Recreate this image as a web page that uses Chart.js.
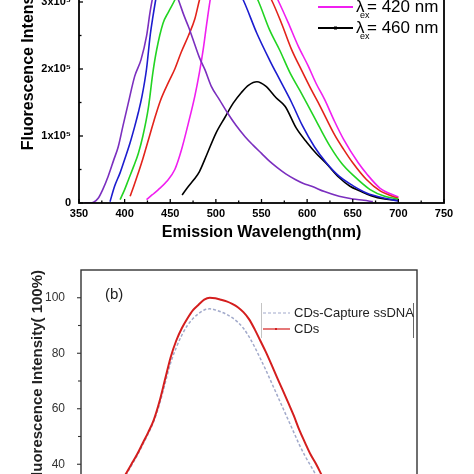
<!DOCTYPE html>
<html>
<head>
<meta charset="utf-8">
<script src="https://cdn.jsdelivr.net/npm/chart.js@4.4.1/dist/chart.umd.min.js"></script>
<style>
  html, body { margin: 0; padding: 0; background: #fff; }
  body { width: 474px; height: 474px; overflow: hidden; position: relative; }
  #specChart { position: absolute; left: 0; top: -150px; }
  #dnaChart { position: absolute; left: 0; top: 245px; }
</style>
</head>
<body>
<canvas id="specChart" width="474" height="395"></canvas>
<canvas id="dnaChart" width="474" height="300"></canvas>
<script>
// =======================
// DATA (a) - emission spectra, intensity in 1x10^5
// =======================
const exLabels = ["340", "360", "380", "400", "420", "460"];
const exColors = ["#7b2fbf", "#1c1ccf", "#22d422", "#e3231b", "#f01ff0", "#000000"];

const wl340 = [356, 362, 366, 371, 376, 382, 388, 393, 398, 404, 411, 418, 424, 428, 431, 434, 438, 443, 448, 453, 459, 465, 470, 476, 482, 488, 495, 504, 513, 522, 532, 541, 550, 559, 568, 577, 587, 596, 605, 619, 635, 650, 662, 672];
const int340 = [0, 0, 0.01, 0.07, 0.2, 0.4, 0.64, 0.84, 1.14, 1.49, 1.89, 2.14, 2.49, 2.86, 3.08, 3.22, 3.33, 3.38, 3.35, 3.24, 3.03, 2.8, 2.63, 2.4, 2.17, 1.99, 1.74, 1.54, 1.34, 1.16, 0.99, 0.86, 0.74, 0.62, 0.52, 0.43, 0.35, 0.29, 0.25, 0.17, 0.1, 0.06, 0.04, 0.02];

const wl360 = [384, 389, 395, 400, 406, 411, 415, 419, 424, 428, 431, 434, 440, 448, 458, 470, 482, 495, 508, 520, 530, 545, 559, 570, 583, 595, 608, 621, 635, 650, 665, 685, 700];
const int360 = [0.02, 0.25, 0.45, 0.65, 0.9, 1.14, 1.35, 1.59, 2.0, 2.5, 2.78, 3.03, 3.5, 3.9, 4.15, 4.25, 4.15, 3.9, 3.6, 3.28, 3.03, 2.53, 2.13, 1.84, 1.5, 1.15, 0.84, 0.6, 0.4, 0.26, 0.15, 0.07, 0.03];

const wl380 = [395, 400, 404, 410, 415, 420, 426, 431, 435, 442, 448, 455, 462, 472, 485, 498, 510, 522, 534, 546, 559, 570, 581, 592, 600, 614, 625, 638, 650, 669, 685, 700];
const int380 = [0.05, 0.2, 0.34, 0.55, 0.74, 1.0, 1.42, 1.95, 2.28, 2.68, 2.85, 3.03, 3.25, 3.5, 3.72, 3.82, 3.78, 3.6, 3.33, 3.03, 2.58, 2.28, 1.95, 1.68, 1.48, 1.12, 0.85, 0.59, 0.42, 0.2, 0.1, 0.06];

const wl400 = [406, 410, 415, 420, 426, 432, 439, 448, 455, 462, 470, 477, 482, 490, 500, 512, 524, 535, 548, 561, 572, 583, 594, 605, 614, 630, 640, 650, 665, 680, 700];
const int400 = [0.1, 0.25, 0.45, 0.66, 0.94, 1.22, 1.52, 1.8, 2.0, 2.25, 2.5, 2.75, 3.03, 3.4, 3.72, 3.9, 3.85, 3.65, 3.33, 3.03, 2.68, 2.29, 1.98, 1.68, 1.45, 1.02, 0.8, 0.6, 0.35, 0.18, 0.07];

const wl420 = [424, 430, 437, 446, 455, 462, 470, 477, 482, 486, 490, 494, 500, 510, 520, 530, 540, 550, 560, 568, 579, 590, 601, 610, 619, 630, 640, 656, 665, 680, 700];
const int420 = [0.05, 0.12, 0.2, 0.32, 0.5, 0.78, 1.2, 1.6, 1.95, 2.28, 2.68, 3.05, 3.45, 3.82, 4.0, 3.95, 3.8, 3.55, 3.25, 3.03, 2.7, 2.35, 2.05, 1.78, 1.55, 1.22, 0.95, 0.6, 0.44, 0.22, 0.09];

const wl460 = [463, 470, 476, 482, 490, 500, 510, 519, 528, 536, 545, 555, 566, 576, 588, 600, 610, 621, 635, 647, 658, 670, 685, 700];
const int460 = [0.12, 0.25, 0.35, 0.47, 0.72, 1.04, 1.28, 1.49, 1.65, 1.76, 1.81, 1.74, 1.57, 1.44, 1.12, 0.9, 0.74, 0.59, 0.38, 0.25, 0.18, 0.11, 0.06, 0.04];

// =======================
// DATA (b) - CDs vs CDs-Capture ssDNA (%)
// =======================
const dnaWl = [430, 435, 440, 445, 450, 455, 460, 465, 470, 475, 480, 485, 490, 495, 500, 505, 510, 515, 520, 525, 530, 535, 540, 545, 550, 555, 560, 565, 570, 575, 580, 585, 590, 595, 600, 605, 610, 615, 620, 625, 630];
const cdsInt = [30, 33, 36.5, 40, 43.5, 47.5, 51.5, 56, 62.5, 70.5, 78.5, 84.5, 89, 92.5, 95.5, 97.5, 99.3, 100, 99.8, 99.3, 98.7, 97.8, 96.6, 94.8, 92.3, 88.7, 84.6, 80.5, 76, 71.3, 66.8, 62.2, 57.5, 52.3, 47.8, 43.5, 40, 36, 32, 28.5, 25];
const captureInt = [30, 33, 36, 39.5, 43, 47, 51, 55.5, 61.5, 69, 76.5, 82, 86.5, 90, 92.5, 94.3, 95.6, 96, 95.6, 94.9, 94, 92.8, 91.2, 89, 86, 82.3, 78.2, 74, 69.5, 65, 60.5, 56, 51.5, 47, 43, 39.5, 36, 32.5, 29, 26, 23];
const dnaLabels = ["CDs-Capture ssDNA", "CDs"];

const FONT = "'Liberation Sans', Arial, sans-serif";
Chart.defaults.font.family = FONT;

function pairs(xs, ys) {
    return xs.map((x, i) => ({ x: x, y: ys[i] }));
}

// =======================
// FRAME + TICKS
// =======================
const axisFrame = {
    id: "axisFrame",
    afterDraw(chart, args, o) {
        const { ctx, chartArea: a, scales } = chart;
        ctx.save();
        ctx.strokeStyle = o.color;
        ctx.lineWidth = o.lineWidth;
        ctx.strokeRect(a.left, a.top, a.right - a.left, a.bottom - a.top);
        ctx.lineWidth = o.tickWidth;
        const dir = o.inward ? 1 : -1;

        o.axes.forEach(id => {
            const s = scales[id];
            const vals = s.ticks.map(t => t.value);
            const mids = [];
            for (let i = 0; i < vals.length - 1; i++) mids.push((vals[i] + vals[i + 1]) / 2);
            const draw = (v, len) => {
                const p = s.getPixelForValue(v);
                ctx.beginPath();
                if (id === "x") {
                    ctx.moveTo(p, a.bottom);
                    ctx.lineTo(p, a.bottom - dir * len);
                } else {
                    ctx.moveTo(a.left, p);
                    ctx.lineTo(a.left + dir * len, p);
                }
                ctx.stroke();
            };
            vals.forEach(v => draw(v, o.major));
            mids.forEach(v => draw(v, o.minor));
        });
        ctx.restore();
    }
};

// =======================
// LEGEND (a)
// =======================
const exLegend = {
    id: "exLegend",
    afterDraw(chart) {
        const { ctx, chartArea: a } = chart;
        ctx.save();
        chart.data.datasets.forEach((ds, i) => {
            const y = a.bottom - 196 - 21 * (exLabels.length - 1 - i) + 21;
            const x0 = a.right - 126;
            ctx.strokeStyle = ds.borderColor;
            ctx.lineWidth = 1.8;
            ctx.beginPath();
            ctx.moveTo(x0, y);
            ctx.lineTo(x0 + 35, y);
            ctx.stroke();
            if (i === exLabels.length - 1) {
                ctx.fillStyle = ds.borderColor;
                ctx.fillRect(x0 + 16, y - 1.5, 3, 3);
            }
            ctx.fillStyle = "#000";
            ctx.textBaseline = "middle";
            ctx.textAlign = "left";
            ctx.font = "17px " + FONT;
            const tx = x0 + 38;
            ctx.fillText("λ", tx, y);
            const lw = ctx.measureText("λ").width;
            ctx.fillText("= " + exLabels[i] + " nm", tx + lw + 2.5, y);
            ctx.font = "9px " + FONT;
            ctx.fillText("ex", tx + 4, y + 9);
        });
        ctx.restore();
    }
};

// =======================
// LEGEND (b)
// =======================
const dnaLegend = {
    id: "dnaLegend",
    afterDraw(chart) {
        const { ctx, chartArea: a } = chart;
        ctx.save();
        ctx.fillStyle = "#222";
        ctx.font = "15px " + FONT;
        ctx.textBaseline = "middle";
        ctx.fillText("(b)", a.left + 24, a.top + 25);

        ctx.lineWidth = 1;
        ctx.strokeStyle = "#c4c4c4";
        ctx.beginPath();
        ctx.moveTo(a.left + 180.5, a.top + 33);
        ctx.lineTo(a.left + 180.5, a.top + 68);
        ctx.stroke();
        ctx.strokeStyle = "#666";
        ctx.beginPath();
        ctx.moveTo(a.right - 3.5, a.top + 33);
        ctx.lineTo(a.right - 3.5, a.top + 68);
        ctx.stroke();

        ctx.font = "13px " + FONT;
        dnaLabels.forEach((label, i) => {
            const ds = chart.data.datasets.find(d => d.label === label);
            const y = a.top + 43 + 16 * i;
            const x0 = a.left + 182;
            ctx.strokeStyle = ds.borderColor;
            ctx.lineWidth = 1.2;
            ctx.setLineDash(ds.borderDash || []);
            ctx.beginPath();
            ctx.moveTo(x0, y);
            ctx.lineTo(x0 + 27, y);
            ctx.stroke();
            ctx.setLineDash([]);
            if (!ds.borderDash) {
                ctx.fillStyle = ds.borderColor;
                ctx.fillRect(x0 + 12, y - 1, 2, 2);
            }
            ctx.fillStyle = "#222";
            ctx.fillText(label, x0 + 31, y);
        });
        ctx.restore();
    }
};

// =======================
// CHART (a)
// =======================
const exSeries = [
    pairs(wl340, int340), pairs(wl360, int360), pairs(wl380, int380),
    pairs(wl400, int400), pairs(wl420, int420), pairs(wl460, int460)
];

new Chart(document.getElementById("specChart"), {
    type: "line",
    data: {
        datasets: exSeries.map((d, i) => ({
            label: "λex = " + exLabels[i] + " nm",
            data: d,
            borderColor: exColors[i],
            borderWidth: 1.6,
            pointRadius: 0,
            fill: false,
            cubicInterpolationMode: "monotone"
        }))
    },
    options: {
        responsive: false,
        animation: false,
        devicePixelRatio: 1,
        layout: { padding: { left: 0, right: 30, top: 31.4, bottom: 0 } },
        plugins: {
            legend: { display: false },
            tooltip: { enabled: false },
            axisFrame: { color: "#000", lineWidth: 1.8, tickWidth: 1.3, inward: true, major: 4, minor: 2.5, axes: ["x", "y"] }
        },
        scales: {
            x: {
                type: "linear",
                min: 350,
                max: 750,
                grid: { display: false },
                border: { display: false },
                ticks: { stepSize: 50, padding: -4, maxRotation: 0, color: "#000", font: { size: 11, weight: "bold" } },
                title: {
                    display: true,
                    text: "Emission Wavelength(nm)",
                    color: "#000",
                    font: { size: 16, weight: "bold" },
                    padding: { top: 0, bottom: 3 }
                },
                afterFit(s) { s.height = 42; }
            },
            y: {
                min: 0,
                max: 4.8,
                grid: { display: false },
                border: { display: false },
                ticks: {
                    stepSize: 1,
                    includeBounds: false,
                    padding: 0,
                    color: "#000",
                    font: { size: 11, weight: "bold" },
                    callback: v => v === 0 ? "0" : v + "x10⁵"
                },
                title: {
                    display: true,
                    text: "Fluorescence Intensity (a.u.)",
                    color: "#000",
                    font: { size: 16, weight: "bold" },
                    padding: { top: 19, bottom: 0 }
                },
                afterFit(s) { s.width = 79; }
            }
        }
    },
    plugins: [axisFrame, exLegend]
});

// =======================
// CHART (b)
// =======================
new Chart(document.getElementById("dnaChart"), {
    type: "line",
    data: {
        datasets: [
            {
                label: "CDs",
                data: pairs(dnaWl, cdsInt),
                borderColor: "#d41e1e",
                borderWidth: 2,
                pointRadius: 0,
                fill: false,
                cubicInterpolationMode: "monotone"
            },
            {
                label: "CDs-Capture ssDNA",
                data: pairs(dnaWl, captureInt),
                borderColor: "#a2aacb",
                borderWidth: 1.5,
                borderDash: [3, 2],
                pointRadius: 0,
                fill: false,
                cubicInterpolationMode: "monotone"
            }
        ]
    },
    options: {
        responsive: false,
        animation: false,
        devicePixelRatio: 1,
        layout: { padding: { left: 0, right: 57, top: 25, bottom: 25.25 } },
        plugins: {
            legend: { display: false },
            tooltip: { enabled: false },
            axisFrame: { color: "#333", lineWidth: 1.4, tickWidth: 1.1, inward: false, major: 4, minor: 3, axes: ["y"] }
        },
        scales: {
            x: { type: "linear", min: 400, max: 700, display: false },
            y: {
                min: 20,
                max: 110,
                grid: { display: false },
                border: { display: false },
                ticks: { stepSize: 20, includeBounds: false, padding: 8, color: "#333", font: { size: 12 } },
                title: {
                    display: true,
                    text: "Fluorescence Intensity( 100%)",
                    align: "end",
                    color: "#222",
                    font: { size: 15, weight: "bold" },
                    padding: { top: 29, bottom: 0 }
                },
                afterFit(s) { s.width = 81; }
            }
        }
    },
    plugins: [axisFrame, dnaLegend]
});
</script>
</body>
</html>
